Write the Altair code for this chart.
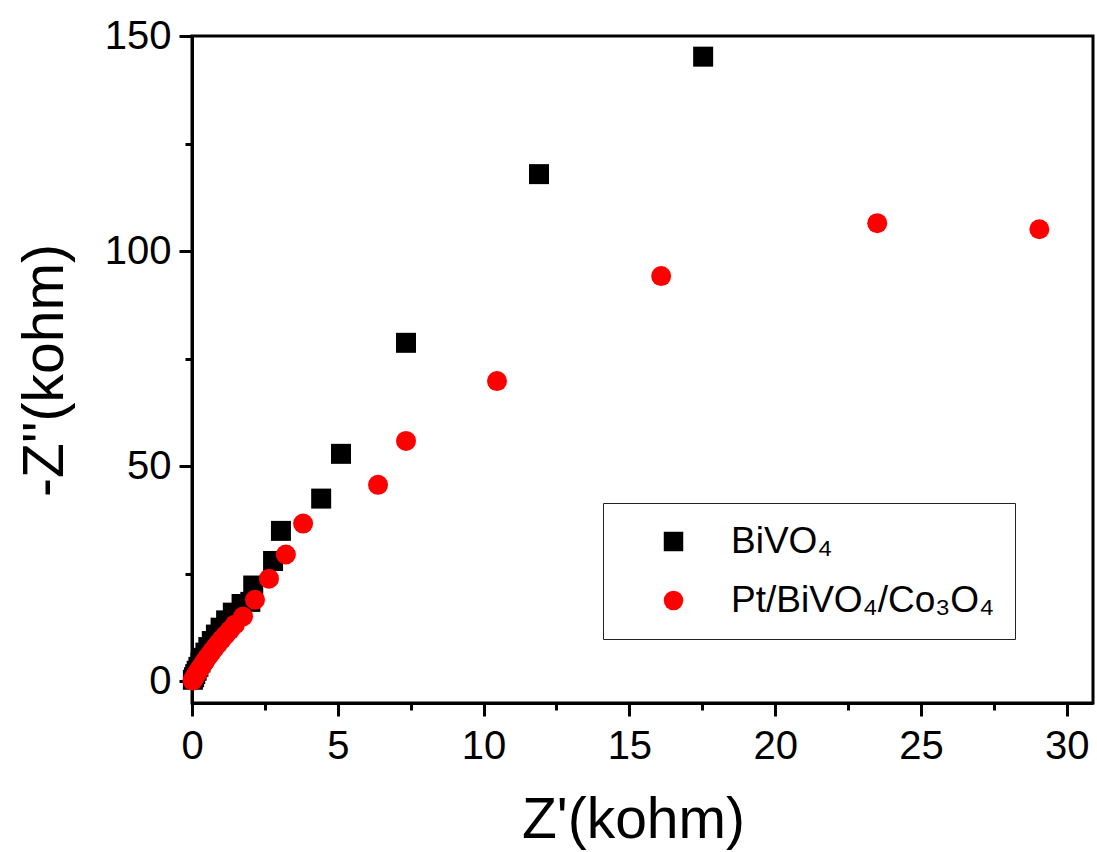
import altair as alt
import pandas as pd

S1 = "BiVO₄"
S2 = "Pt/BiVO₄/Co₃O₄"

bivo4_x = [0.03, 0.07, 0.11, 0.16, 0.22, 0.29, 0.37, 0.46, 0.56, 0.68, 0.82, 0.98,
           1.17, 1.40, 1.70, 2.00, 2.10, 2.78, 3.05, 4.43, 5.11, 7.34, 11.90, 17.53]
bivo4_y = [0.4, 1.0, 1.7, 2.5, 3.4, 4.4, 5.5, 6.7, 8.0, 9.4, 10.9, 12.5,
           14.2, 16.0, 18.0, 18.5, 22.3, 28.0, 35.0, 42.5, 52.9, 78.7, 117.9, 145.2]

pt_x = [0.02, 0.05, 0.09, 0.13, 0.18, 0.23, 0.29, 0.36, 0.43, 0.51, 0.60, 0.69,
        0.79, 0.90, 1.02, 1.15, 1.30, 1.47, 1.75, 2.16, 2.64, 3.22, 3.81, 6.38,
        7.34, 10.46, 16.09, 23.50, 29.06]
pt_y = [0.2, 0.6, 1.0, 1.5, 2.0, 2.6, 3.2, 3.9, 4.6, 5.4, 6.2, 7.0,
        7.9, 8.8, 9.8, 10.8, 11.9, 13.2, 15.1, 19.0, 23.9, 29.5, 36.7, 45.7,
        55.9, 69.8, 94.2, 106.5, 105.1]

x_ticks = [0, 2.5, 5, 7.5, 10, 12.5, 15, 17.5, 20, 22.5, 25, 27.5, 30]
y_ticks = [0, 25, 50, 75, 100, 125, 150]

df = pd.concat([
    pd.DataFrame({"series": S1, "x": bivo4_x, "y": bivo4_y}),
    pd.DataFrame({"series": S2, "x": pt_x, "y": pt_y}),
], ignore_index=True)

FONT = "Liberation Sans"

chart = alt.Chart(df).mark_point(filled=True, opacity=1).encode(
    x=alt.X("x:Q",
            scale=alt.Scale(domain=[0, 30.9], nice=False, zero=False),
            axis=alt.Axis(
                title="Z'(kohm)", values=x_ticks,
                labelExpr="datum.value % 5 === 0 ? datum.label : ''",
                tickSize={"condition": {"test": "datum.value % 5 === 0", "value": 13}, "value": 7},
                titleX=441, titleY=134, titleBaseline="alphabetic",
                labelPadding=10, labelFlush=False,
            )),
    y=alt.Y("y:Q",
            scale=alt.Scale(domain=[-5, 150], nice=False, zero=False),
            axis=alt.Axis(
                title="-Z''(kohm)", values=y_ticks,
                labelExpr="datum.value % 50 === 0 ? datum.label : ''",
                tickSize={"condition": {"test": "datum.value % 50 === 0", "value": 13}, "value": 7},
                titleX=-130, titleY=334, titleBaseline="alphabetic", titleAngle=270,
                labelPadding=8, labelFlush=False,
            )),
    color=alt.Color("series:N",
                    scale=alt.Scale(domain=[S1, S2], range=["#000000", "#ff0000"]),
                    legend=alt.Legend(title=None)),
    shape=alt.Shape("series:N",
                    scale=alt.Scale(domain=[S1, S2], range=["square", "circle"]),
                    legend=alt.Legend(title=None)),
    size=alt.value(400),
).properties(
    width=901, height=667,
    padding={"left": 192, "top": 36, "right": 4, "bottom": 149},
    autosize=alt.AutoSizeParams(type="none"),
).configure_view(
    stroke="#000000", strokeWidth=3
).configure_axis(
    domainColor="#000000", domainWidth=3,
    tickColor="#000000", tickWidth=3,
    labelFont=FONT, labelFontSize=40, labelColor="#000000",
    titleFont=FONT, titleFontSize=57, titleColor="#000000", titleFontWeight="normal",
    grid=False, labelOverlap=False,
).configure_legend(
    orient="none", legendX=411, legendY=467,
    padding=20, strokeColor="#222222",
    labelFont=FONT, labelFontSize=37, labelColor="#000000", labelLimit=0,
    symbolSize=380, symbolOffset=32, labelOffset=39, rowPadding=21,
    symbolStrokeWidth=0,
)

chart.save("out.html", embed_options={"renderer": "svg", "actions": False})
